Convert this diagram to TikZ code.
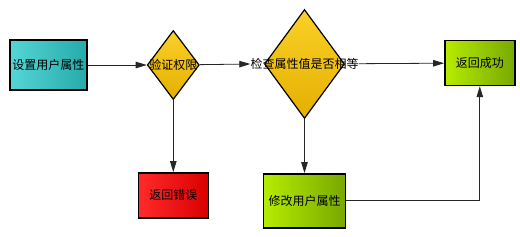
\documentclass[tikz,border=0pt]{standalone}
\usepackage{fontspec}
\usepackage{xcolor}
\usepackage{tikz}
\usetikzlibrary{arrows.meta,positioning,shapes.geometric}
\newfontfamily\cjk{Noto Sans CJK SC}

\definecolor{cyanA}{HTML}{55D6D6}
\definecolor{cyanB}{HTML}{26AAAA}
\definecolor{goldA}{HTML}{FAD028}
\definecolor{goldB}{HTML}{E4B000}
\definecolor{redA}{HTML}{FF2A2A}
\definecolor{redB}{HTML}{DA0000}
\definecolor{limeA}{HTML}{B6EC00}
\definecolor{limeB}{HTML}{78A800}

\begin{document}
\begin{tikzpicture}[
  every node/.style={font=\cjk\fontsize{12}{14}\selectfont},
  procbox/.style={rectangle, draw, line width=1.4pt, inner sep=0pt},
  decision/.style={diamond, draw, line width=1.2pt, inner sep=0pt,
    top color=goldA, bottom color=goldB},
  arr/.style={-{Triangle[length=11pt,width=6.5pt]}, line width=0.8pt,
    draw=black!85},
]
\useasboundingbox (0,0) rectangle (520pt,-236pt);

% Boxes and decisions
\node[procbox, minimum width=77pt, minimum height=50pt,
  left color=cyanA, right color=cyanB] (setattr) at (48.5pt,-65pt) {设置用户属性};

\node[decision, minimum width=52pt, minimum height=69pt,
  right=59pt of setattr, label=center:{验证权限}] (checkperm) {};

\node[procbox, minimum width=70pt, minimum height=45pt,
  left color=redA, right color=redB, below=72pt of checkperm] (error) {返回错误};

\node[decision, minimum width=80pt, minimum height=109pt,
  right=64pt of checkperm, yshift=1pt] (checkval) {};
\node[inner sep=0pt] (checkvaltext) at (checkval) {检查属性值是否相等};

\node[procbox, minimum width=82pt, minimum height=54pt,
  left color=limeA, right color=limeB, below=54pt of checkval] (modify) {修改用户属性};

\node[procbox, minimum width=70pt, minimum height=45pt,
  left color=limeA, right color=limeB, right=99pt of checkval, yshift=1pt] (success) {返回成功};

% Arrows
\draw[arr] (checkperm) -- (checkvaltext.west);
\draw[arr] (checkvaltext) -- (success);
\draw[arr] (setattr) -- (checkperm);
\draw[arr] (checkperm) -- (error);
\draw[arr] (checkval) -- (modify);
\draw[arr] (modify) -| (success);

\end{tikzpicture}
\end{document}
